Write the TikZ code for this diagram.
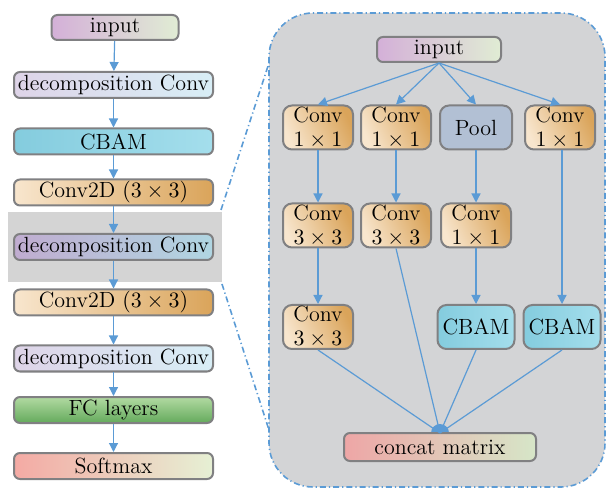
\documentclass[tikz,border=0pt]{standalone}
\usepackage{amsmath}
\usetikzlibrary{arrows.meta,positioning}
\definecolor{arrowblue}{RGB}{91,155,213}
\definecolor{boxgray}{RGB}{128,128,130}
\definecolor{panelgray}{RGB}{211,212,214}
\definecolor{bandgray}{RGB}{212,212,212}
\definecolor{inleft}{RGB}{212,176,216}
\definecolor{inright}{RGB}{224,236,212}
\definecolor{decleft}{RGB}{222,212,232}
\definecolor{decright}{RGB}{216,238,246}
\definecolor{decdarkleft}{RGB}{192,172,208}
\definecolor{decdarkright}{RGB}{176,214,226}
\definecolor{cbamleft}{RGB}{132,204,222}
\definecolor{cbamright}{RGB}{164,222,236}
\definecolor{convleft}{RGB}{248,230,206}
\definecolor{convright}{RGB}{218,164,90}
\definecolor{fctop}{RGB}{178,218,162}
\definecolor{fcbottom}{RGB}{100,170,92}
\definecolor{softleft}{RGB}{244,170,164}
\definecolor{softright}{RGB}{230,240,212}
\definecolor{poolblue}{RGB}{178,192,212}
\definecolor{catleft}{RGB}{238,166,166}
\definecolor{catright}{RGB}{214,230,200}

\begin{document}
\begin{tikzpicture}[x=0.5pt,y=-0.5pt,
  box/.style={draw=boxgray, line width=1pt, rounded corners=3pt, minimum width=99.5pt, minimum height=13pt, inner sep=0pt, font=\fontsize{11}{13}\selectfont},
  cell/.style={draw=boxgray, line width=1pt, rounded corners=4.5pt, minimum width=35pt, minimum height=22pt, inner sep=0pt, align=center, font=\fontsize{11}{12}\selectfont},
  convcell/.style={cell, left color=convleft, right color=convright, shading angle=115},
  cbamcell/.style={cell, minimum width=38.5pt, left color=cbamleft, right color=cbamright},
  link/.style={arrowblue, line width=0.6pt, -{Triangle[length=4.5pt,width=4.5pt]}},
  flow/.style={arrowblue, line width=0.6pt},
  zoomline/.style={arrowblue, line width=0.8pt, dash pattern=on 3pt off 1.5pt on 0.6pt off 1.5pt}]
\useasboundingbox (0,0) rectangle (608,490);
% backgrounds
\fill[bandgray] (8,212) rectangle (222,282);
\draw[zoomline, fill=panelgray, rounded corners=22pt] (269,13) rectangle (605,487);
\draw[zoomline] (221,210) -- (270,60);
\draw[zoomline] (222,284) -- (269,430);
% left column
\node[box, minimum width=63.5pt, minimum height=12.5pt, left color=inleft, right color=inright] (in) at (115,27.5) {input};
\node[box, left color=decleft, right color=decright] (dec1) at (113.5,85) {decomposition Conv};
\node[box, left color=cbamleft, right color=cbamright] (cbam) at (113.5,141.5) {CBAM};
\node[box, left color=convleft, right color=convright] (cva) at (113.5,192.5) {Conv2D $(3\times3)$};
\node[box, left color=decdarkleft, right color=decdarkright] (dec2) at (113.5,247) {decomposition Conv};
\node[box, left color=convleft, right color=convright] (cvb) at (113.5,302.5) {Conv2D $(3\times3)$};
\node[box, left color=decleft, right color=decright] (dec3) at (113.5,358.5) {decomposition Conv};
\node[box, top color=fctop, bottom color=fcbottom] (fc) at (113.5,410) {FC layers};
\node[box, left color=softleft, right color=softright] (soft) at (113.5,466) {Softmax};
\draw[link] (in) -- (dec1);
\draw[link] (dec1) -- (cbam);
\draw[link] (cbam) -- (cva);
\draw[link] (cva) -- (dec2);
\draw[link] (dec2) -- (cvb);
\draw[link] (cvb) -- (dec3);
\draw[link] (dec3) -- (fc);
\draw[link] (fc) -- (soft);
% right block
\node[box, minimum width=62pt, minimum height=12.5pt, left color=inleft, right color=inright] (rin) at (439,49.5) {input};
\node[convcell] (a1) at (318,127.5) {Conv\\$1\times1$};
\node[convcell] (b1) at (396,127.5) {Conv\\$1\times1$};
\node[cell, minimum width=36pt, fill=poolblue] (p1) at (476,127.5) {Pool};
\node[convcell] (d1) at (560,127.5) {Conv\\$1\times1$};
\node[convcell] (a2) at (318,225.5) {Conv\\$3\times3$};
\node[convcell] (b2) at (396,225.5) {Conv\\$3\times3$};
\node[convcell] (p2) at (476,225.5) {Conv\\$1\times1$};
\node[convcell] (a3) at (318,327) {Conv\\$3\times3$};
\node[cbamcell] (p3) at (476,327) {CBAM};
\node[cbamcell] (d3) at (562,327) {CBAM};
\coordinate (M) at (440,433);
\fill[arrowblue] (M) circle (4.5pt);
\node[box, minimum width=96pt, minimum height=14pt, left color=catleft, right color=catright] (cat) at (440,447) {concat matrix};
% arrows
\draw[link] (rin.south) -- (a1.north);
\draw[link] (rin.south) -- (b1.north);
\draw[link] (rin.south) -- (p1.north);
\draw[link] (rin.south) -- (d1.north);
\draw[link] (a1) -- (a2);
\draw[link] (b1) -- (b2);
\draw[link] (p1) -- (p2);
\draw[link] (a2) -- (a3);
\draw[link] (p2) -- (p3);
\draw[link] (d1.south -| d3.north) -- (d3.north);
\draw[flow] (a3.south) -- (M);
\draw[flow] (b2.south) -- (M);
\draw[flow] (p3.south) -- (M);
\draw[flow] (d3.south) -- (M);
\end{tikzpicture}
\end{document}
